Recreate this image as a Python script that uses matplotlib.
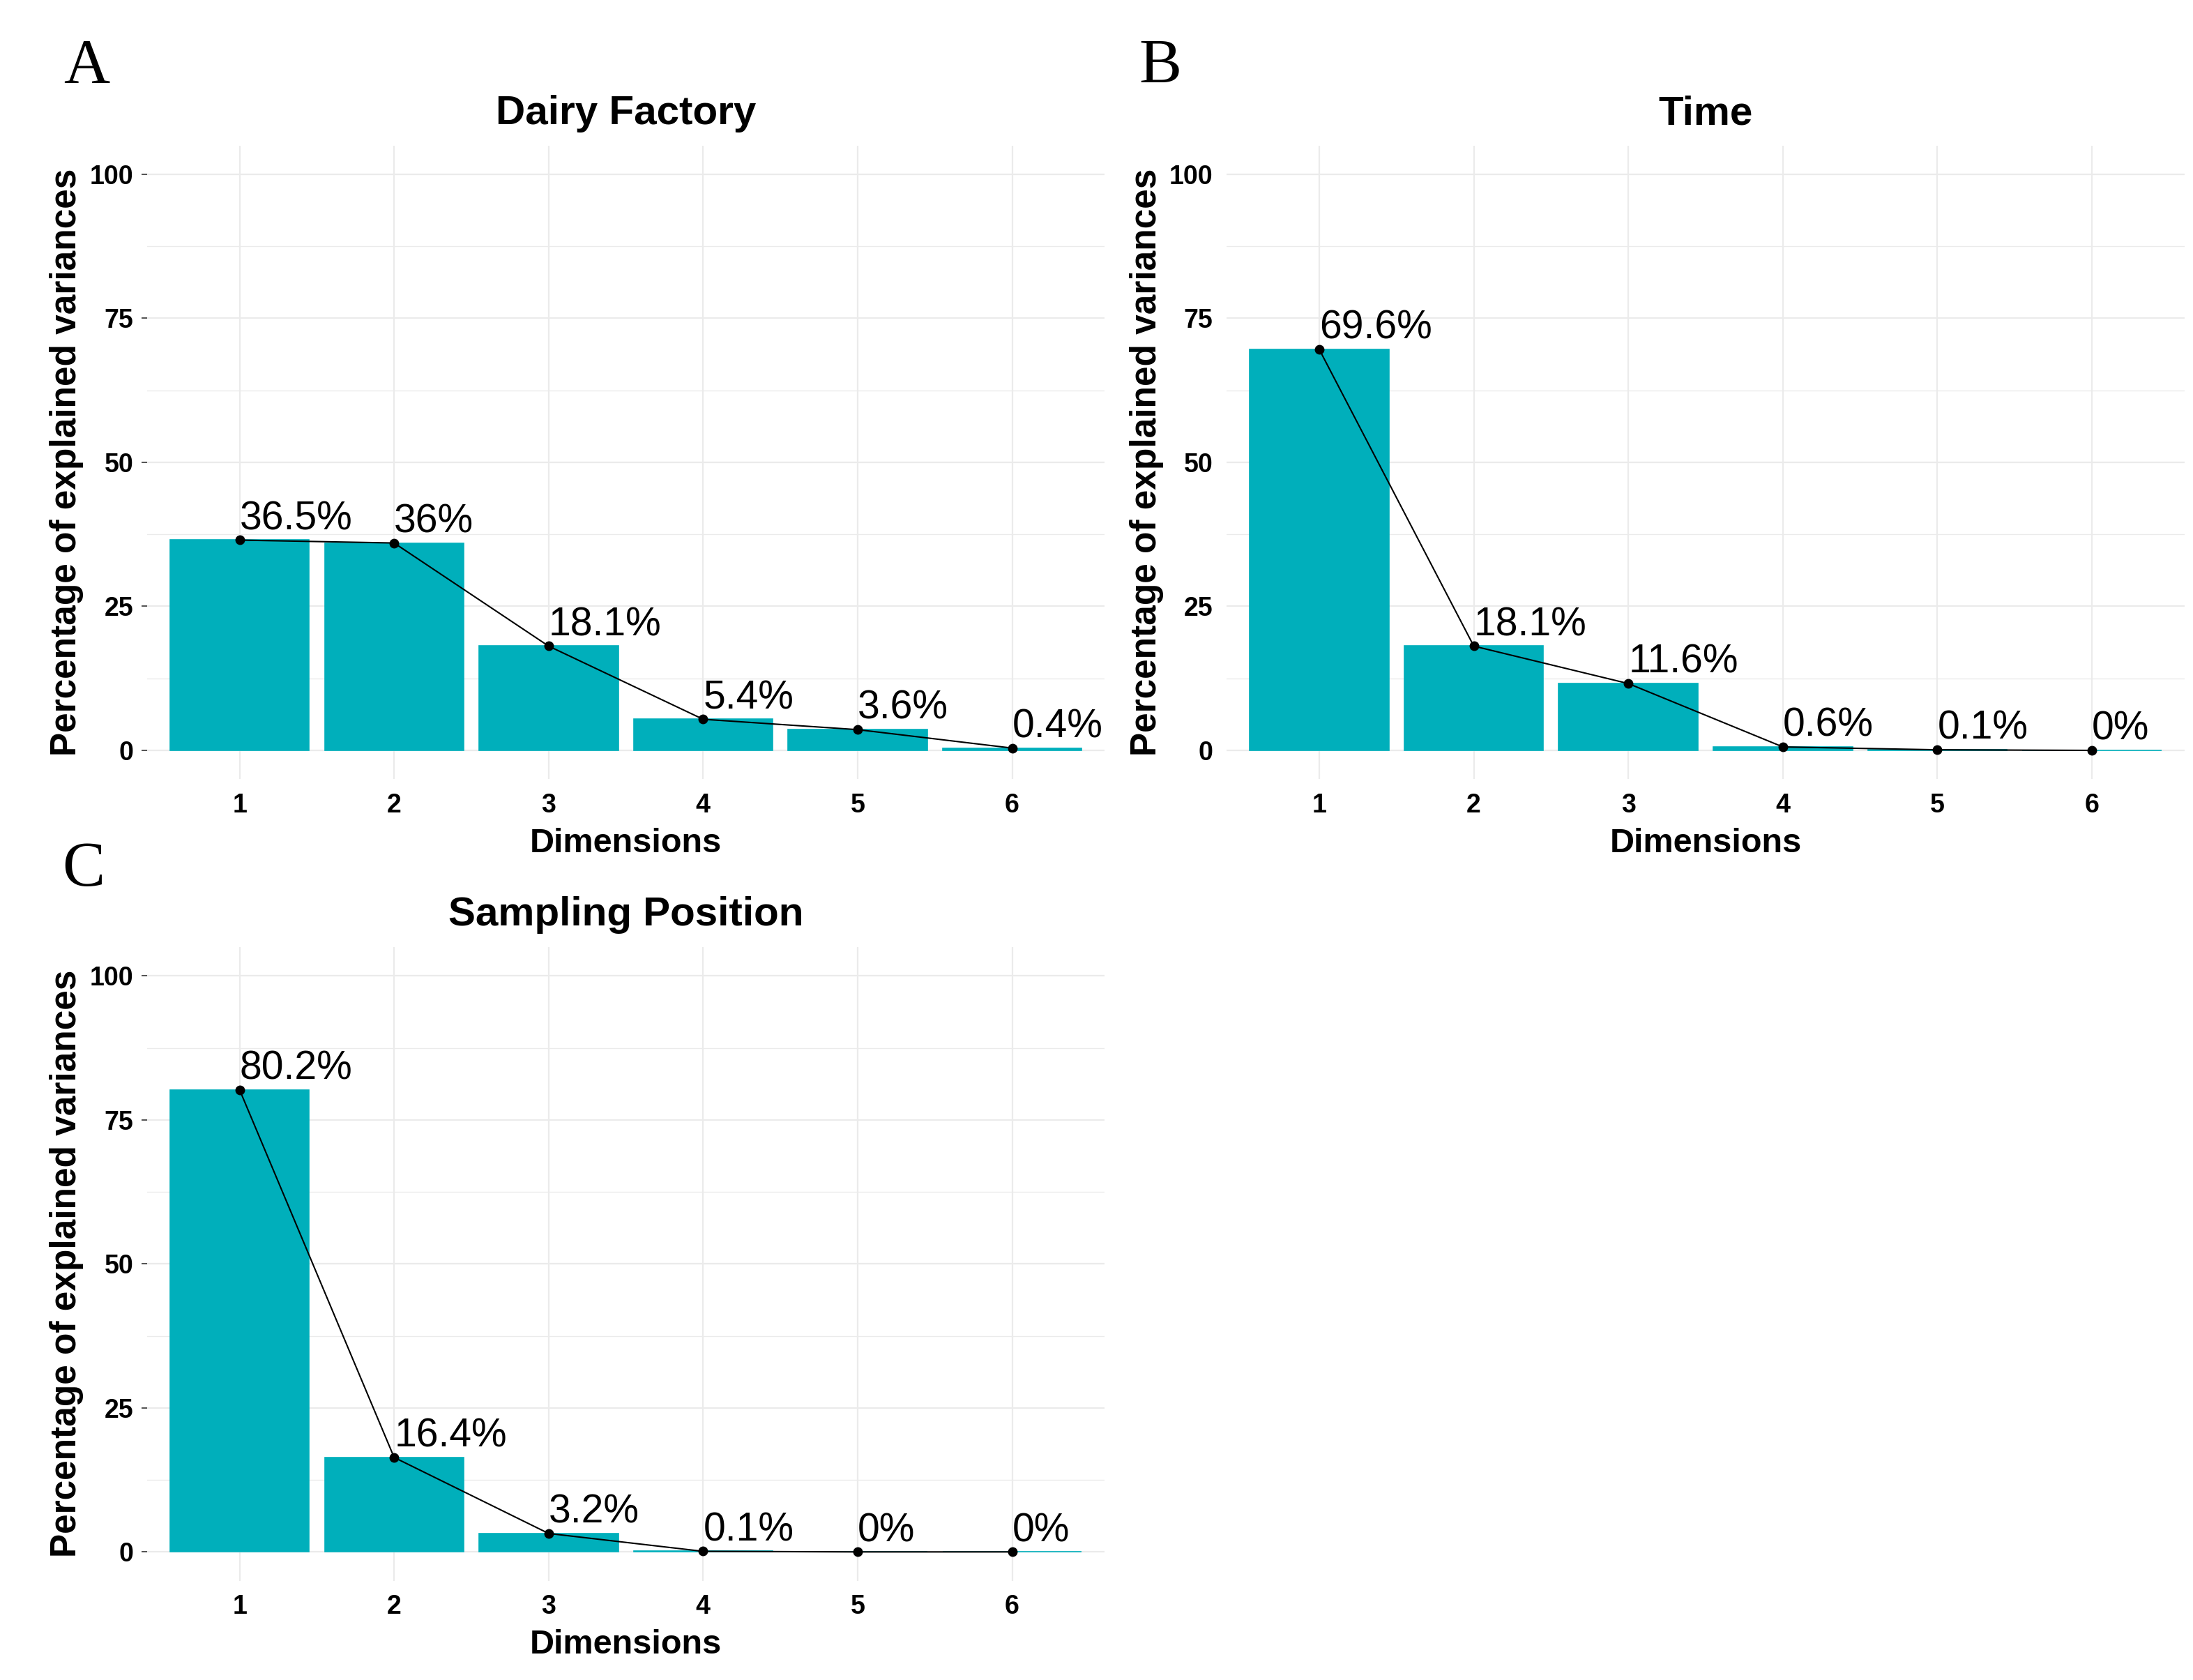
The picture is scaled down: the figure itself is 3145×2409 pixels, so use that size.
import matplotlib
matplotlib.use("Agg")
import matplotlib.pyplot as plt

# ------------------------------
# data
# ------------------------------
dims = [1, 2, 3, 4, 5, 6]
dairy_factory = [36.5, 36.0, 18.1, 5.4, 3.6, 0.4]
time_var = [69.6, 18.1, 11.6, 0.6, 0.1, 0.0]
sampling_pos = [80.2, 16.4, 3.2, 0.1, 0.0, 0.0]
dairy_labels = ["36.5%", "36%", "18.1%", "5.4%", "3.6%", "0.4%"]
time_labels = ["69.6%", "18.1%", "11.6%", "0.6%", "0.1%", "0%"]
sampling_labels = ["80.2%", "16.4%", "3.2%", "0.1%", "0%", "0%"]
y_ticks = [0, 25, 50, 75, 100]

BAR = "#00AFBB"
GRID = "#EBEBEB"
SANS = "Liberation Sans"

plt.rcParams["font.family"] = SANS

fig = plt.figure(figsize=(31.45, 24.09), dpi=100)


def scree(rect, values, labels, title, show_ticks=True):
    ax = fig.add_axes(rect)
    ax.bar(dims, values, width=0.9, color=BAR, edgecolor=BAR, linewidth=1.2, zorder=2)
    ax.plot(dims, values, color="black", linewidth=1.5, marker="o", markersize=9, zorder=3)
    for x, v, lab in zip(dims, values, labels):
        ax.annotate(lab, (x, v), xytext=(0, 11), textcoords="offset points",
                    ha="left", va="baseline", fontsize=41, color="black", zorder=4)
    ax.set_xlim(0.4, 6.6)
    ax.set_ylim(-5, 105)
    ax.set_xticks(dims)
    ax.set_yticks(y_ticks)
    ax.set_yticks([12.5, 37.5, 62.5, 87.5], minor=True)
    ax.grid(True, which="major", color=GRID, linewidth=1.6, zorder=0)
    ax.grid(True, which="minor", axis="y", color=GRID, linewidth=1.0, zorder=0)
    ax.set_axisbelow(True)
    for s in ax.spines.values():
        s.set_visible(False)
    ax.tick_params(axis="x", length=0, pad=14, labelsize=27)
    ax.tick_params(axis="y", length=6 if show_ticks else 0, width=1.2, color="#333333",
                   pad=8 if show_ticks else 14, labelsize=27)
    ax.tick_params(axis="y", which="minor", length=0)
    for t in ax.get_xticklabels() + ax.get_yticklabels():
        t.set_fontweight("bold")
    ax.set_xlabel("Dimensions", fontsize=35, fontweight="bold", labelpad=10)
    ax.set_ylabel("Percentage of explained variances", fontsize=37, fontweight="bold", labelpad=6)
    ax.set_title(title, fontsize=42, fontweight="bold", pad=22)
    return ax


scree([0.0670, 0.5362, 0.4368, 0.3772], dairy_factory, dairy_labels, "Dairy Factory")
scree([0.5593, 0.5362, 0.4369, 0.3772], time_var, time_labels, "Time", show_ticks=False)
scree([0.0670, 0.0591, 0.4368, 0.3772], sampling_pos, sampling_labels, "Sampling Position")

# panel letters
for x, y, letter in [(0.0395, 0.960, "A"), (0.529, 0.960, "B"), (0.038, 0.482, "C")]:
    fig.text(x, y, letter, fontsize=66, family="Liberation Serif", ha="center", va="center")

fig.savefig("out.png", dpi=100, facecolor="white")
